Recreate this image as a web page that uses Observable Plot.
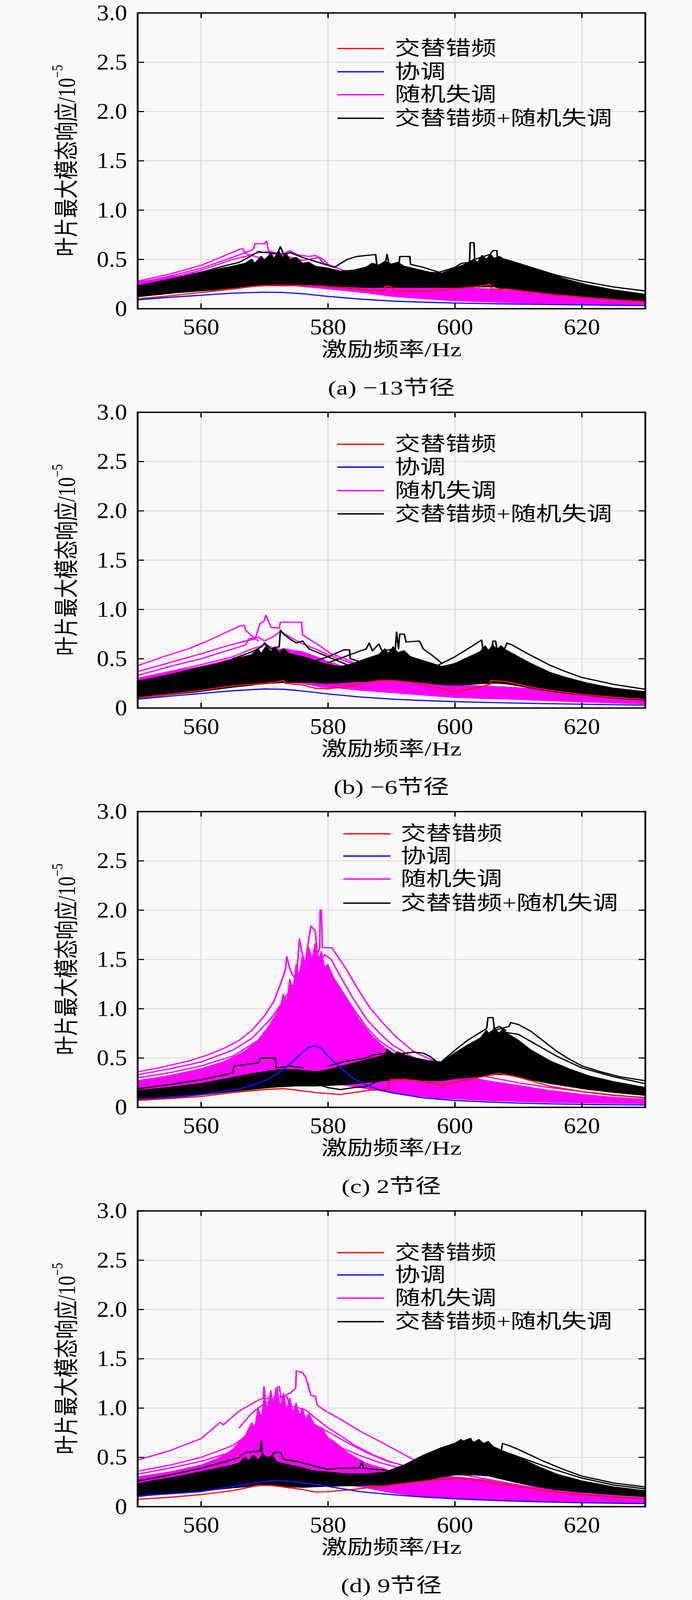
<!DOCTYPE html>
<html>
<head>
<meta charset="utf-8">
<script src="https://cdn.jsdelivr.net/npm/d3@7"></script>
<script src="https://cdn.jsdelivr.net/npm/@observablehq/plot@0.6"></script>
<style>
  html, body { margin: 0; background: #f9f9f9; overflow: hidden; }
  #root { width: 1772px; height: 5237px; overflow: hidden; transform-origin: 0 0; }
  .spacer { height: 9px; }
  .panel { position: relative; width: 1772px; height: 1307px; }
  .panel svg { overflow: visible; display: block; }
  .caption { position: absolute; left: 352px; width: 1300px; top: 1212px; height: 94px; line-height: 96px;
    text-align: center; font-size: 66px; font-family: 'Liberation Serif','Noto Sans CJK SC',serif; color: #000; }
</style>
</head>
<body>
<div id="root"><div class="spacer"></div></div>
<script>
// ---------- tick labels / text ----------
const freqTicks = [560, 580, 600, 620];
const yTicks = [0, 0.5, 1.0, 1.5, 2.0, 2.5, 3.0];
const legendLabels = ["交替错频", "协调", "随机失调", "交替错频+随机失调"];
const captions = ["(a) −13节径", "(b) −6节径", "(c) 2节径", "(d) 9节径"];
const xTitle = "激励频率/Hz";
const yTitleMain = "叶片最大模态响应/10";
const yTitleSup = "−5";

// ---------- panel (a) -13 ----------
const A_blue = [[550,0.091],[555,0.115],[560,0.137],[565,0.158],[570,0.168],[573,0.165],[576,0.152],[580,0.125],[585,0.098],[590,0.078],[595,0.066],[600,0.058],[605,0.052],[610,0.047],[615,0.043],[620,0.039],[625,0.035],[630,0.032]];
const A_red = [[550,0.1],[555,0.13],[560,0.165],[565,0.2],[568,0.225],[570,0.235],[573,0.24],[576,0.235],[579,0.23],[581,0.22],[583,0.21],[585,0.2],[586,0.185],[588.9,0.185],[589,0.23],[590,0.225],[590.3,0.18],[593,0.178],[596,0.18],[598,0.19],[600,0.205],[603,0.22],[605,0.24],[605.5,0.25],[605.7,0.2],[608,0.2],[612,0.17],[616,0.14],[620,0.118],[625,0.092],[630,0.072]];
const A_pinkBand = [[550,0.14,0.27],[555,0.17,0.32],[560,0.19,0.37],[565,0.21,0.43],[570,0.23,0.48],[575,0.23,0.46],[580,0.2,0.36],[583,0.18,0.28],[586,0.16,0.245],[590,0.125,0.235],[595,0.1,0.22],[600,0.08,0.215],[605,0.068,0.2],[610,0.058,0.175],[615,0.05,0.15],[620,0.045,0.125],[625,0.04,0.095],[630,0.036,0.068]];
const A_blackBand = [[550,0.12,0.23],[553,0.14,0.27],[556,0.16,0.31],[559,0.175,0.35],[562,0.19,0.39],[565,0.21,0.43],[567,0.22,0.46],[568,0.225,0.5],[568.5,0.227,0.46],[569.5,0.23,0.53],[570,0.235,0.49],[571,0.235,0.56],[571.5,0.235,0.51],[572.3,0.235,0.58],[572.8,0.235,0.52],[573.5,0.235,0.55],[574,0.235,0.5],[575,0.235,0.52],[576,0.235,0.46],[577,0.232,0.47],[578,0.23,0.43],[580,0.23,0.41],[582,0.225,0.38],[584,0.22,0.39],[586,0.215,0.42],[587,0.215,0.46],[588,0.215,0.44],[589,0.215,0.48],[590,0.215,0.45],[591,0.215,0.47],[592,0.215,0.43],[594,0.215,0.4],[596,0.215,0.37],[598,0.215,0.36],[600,0.215,0.41],[602,0.215,0.46],[603,0.217,0.5],[603.6,0.218,0.47],[604.3,0.22,0.54],[605,0.22,0.5],[605.6,0.22,0.55],[606.2,0.22,0.51],[607,0.21,0.53],[608,0.2,0.49],[610,0.19,0.45],[612,0.17,0.41],[615,0.15,0.35],[618,0.135,0.29],[621,0.12,0.24],[625,0.1,0.19],[630,0.075,0.145]];
const A_pinkLines = [
  [[550,0.28],[555,0.35],[560,0.44],[563,0.52],[566,0.6],[566.5,0.61],[567,0.56],[569,0.52],[571,0.49],[574,0.45],[577,0.4],[580,0.34]],
  [[550,0.26],[555,0.33],[560,0.41],[564,0.5],[567,0.57],[568.2,0.6],[568.5,0.66],[570,0.66],[570.3,0.685],[570.6,0.6],[571,0.55],[573,0.56],[574,0.59],[575,0.55],[577,0.53],[578,0.54],[579.3,0.5],[580,0.45],[582,0.4],[584,0.35]],
  [[550,0.24],[555,0.31],[560,0.39],[565,0.5],[567,0.53],[569,0.57],[571,0.58],[573,0.54],[576,0.49],[578.5,0.52],[579.3,0.46],[582,0.4],[585,0.33]]
];
const A_blackLines = [
  [[550,0.22],[555,0.29],[560,0.37],[564,0.44],[566,0.47],[568,0.54],[569,0.58],[570,0.57],[572,0.56],[572.5,0.63],[573,0.55],[574,0.57],[576,0.52],[578,0.48],[580,0.44],[581,0.42]],
  [[581,0.42],[583,0.5],[584.5,0.53],[587.5,0.55],[587.7,0.44],[589,0.45],[589.3,0.55],[589.6,0.45],[591.2,0.46],[591.3,0.53],[592.9,0.53],[593,0.45],[595,0.42],[597.5,0.37]],
  [[597.5,0.37],[600,0.42],[601,0.46],[602.3,0.47],[602.4,0.67],[603,0.67],[603.1,0.5],[604,0.52],[605.5,0.55],[606,0.59],[606.6,0.59],[606.7,0.51],[608,0.5],[610,0.46],[613,0.4],[616,0.34],[620,0.28],[625,0.22],[630,0.18]]
];

// ---------- panel (b) -6 ----------
const B_blue = [[550,0.091],[555,0.12],[560,0.148],[565,0.175],[570,0.194],[573,0.19],[575,0.179],[578,0.158],[580,0.143],[585,0.112],[590,0.091],[595,0.076],[600,0.065],[605,0.057],[610,0.05],[615,0.044],[620,0.039],[625,0.034],[630,0.029]];
const B_red = [[550,0.105],[555,0.14],[560,0.18],[565,0.225],[570,0.25],[572,0.265],[573,0.28],[573.3,0.25],[576,0.235],[578,0.2],[580,0.195],[583,0.22],[586,0.26],[588,0.28],[590,0.28],[592,0.27],[594,0.25],[596,0.22],[598,0.195],[600,0.168],[603,0.2],[605.5,0.24],[605.7,0.28],[608,0.27],[610,0.24],[613,0.2],[616,0.17],[620,0.137],[625,0.11],[630,0.086]];
const B_pinkBand = [[550,0.15,0.3],[555,0.17,0.36],[560,0.2,0.42],[565,0.22,0.5],[570,0.25,0.56],[573,0.26,0.6],[576,0.25,0.57],[579,0.21,0.5],[582,0.2,0.4],[585,0.18,0.33],[588,0.165,0.31],[591,0.15,0.29],[595,0.13,0.26],[600,0.106,0.235],[605,0.095,0.22],[610,0.086,0.205],[615,0.072,0.175],[620,0.06,0.148],[625,0.05,0.12],[630,0.04,0.096]];
const B_blackBand = [[550,0.1,0.27],[553,0.12,0.31],[556,0.14,0.35],[559,0.16,0.4],[562,0.185,0.44],[565,0.21,0.49],[568,0.23,0.54],[569,0.24,0.6],[569.5,0.242,0.55],[570.3,0.245,0.63],[571,0.25,0.57],[571.7,0.252,0.62],[572.3,0.255,0.56],[573,0.257,0.6],[574,0.26,0.55],[576,0.26,0.52],[578,0.255,0.48],[580,0.25,0.44],[582,0.255,0.42],[584,0.265,0.45],[586,0.27,0.5],[588,0.28,0.54],[589,0.28,0.6],[589.5,0.28,0.55],[590.3,0.28,0.62],[591,0.278,0.56],[592,0.275,0.58],[593,0.27,0.52],[594,0.265,0.5],[596,0.25,0.46],[598,0.235,0.42],[600,0.23,0.45],[602,0.235,0.51],[604,0.245,0.57],[604.8,0.247,0.63],[605.3,0.248,0.58],[606,0.25,0.64],[606.6,0.25,0.59],[607.3,0.248,0.63],[608,0.245,0.59],[610,0.225,0.52],[612,0.2,0.45],[615,0.17,0.36],[618,0.145,0.3],[621,0.125,0.25],[625,0.1,0.2],[630,0.078,0.165]];
const B_pinkLines = [
  [[550,0.43],[554,0.52],[558,0.6],[561,0.68],[564,0.77],[566,0.83],[566.8,0.84],[567,0.79],[568,0.73],[569,0.68]],
  [[550,0.37],[555,0.46],[560,0.55],[564,0.63],[567,0.68],[568.5,0.7],[569.3,0.86],[569.9,0.88],[570.2,0.94],[570.5,0.9],[571,0.82],[572.3,0.81],[572.5,0.87],[575.8,0.87],[576,0.74],[578,0.66],[580.5,0.55],[582.7,0.5],[585,0.43]],
  [[550,0.33],[555,0.42],[560,0.5],[565,0.6],[567,0.64],[567.5,0.7],[569,0.72],[570,0.68],[571.5,0.73],[572.5,0.78],[574,0.72],[576,0.65],[578,0.6],[580,0.54],[583,0.47],[586,0.4]],
  [[550,0.3],[555,0.37],[560,0.44],[565,0.52],[568,0.6],[570,0.64],[572,0.6],[575,0.56],[578,0.5],[581,0.45],[584,0.38]]
];
const B_blackLines = [
  [[565,0.5],[568,0.57],[569.5,0.62],[570,0.66],[571,0.6],[572.3,0.62],[572.5,0.79],[573,0.75],[574,0.7],[575,0.66],[576,0.68],[577,0.6],[580,0.52],[583,0.44]],
  [[578,0.48],[580,0.52],[582.5,0.59],[583.4,0.59],[583.5,0.5],[585,0.47]],
  [[580,0.46],[583,0.53],[586,0.6],[586.5,0.66],[587,0.58],[588,0.65],[588.5,0.58],[590.6,0.6],[590.8,0.77],[591.1,0.6],[591.3,0.75],[592,0.75],[592.3,0.67],[594.4,0.68],[595,0.6],[596.5,0.53],[598,0.45]],
  [[597.5,0.44],[600,0.52],[602,0.6],[604.2,0.69],[604.4,0.6],[605,0.6]],
  [[605,0.58],[605.8,0.6],[606,0.68],[606.4,0.68],[606.6,0.6],[607.8,0.6],[608.2,0.66],[609,0.64],[611.2,0.56],[613,0.5],[614.8,0.44],[617,0.38],[620,0.31],[625,0.24],[630,0.19]]
];

// ---------- panel (c) 2 ----------
const C_blue = [[550,0.083],[555,0.105],[560,0.13],[565,0.175],[568,0.22],[570,0.27],[572,0.34],[573,0.385],[575,0.5],[576,0.56],[577,0.61],[578,0.625],[579,0.595],[580,0.52],[581,0.46],[582,0.4],[584,0.29],[586,0.227],[588,0.18],[590,0.148],[595,0.096],[600,0.07],[605,0.055],[610,0.043],[615,0.036],[620,0.03],[625,0.027],[630,0.024]];
const C_red = [[550,0.07],[555,0.09],[560,0.11],[565,0.15],[570,0.18],[573,0.19],[575,0.175],[578,0.15],[580,0.14],[582,0.13],[584,0.15],[586.7,0.175],[589.5,0.18],[589.8,0.28],[592,0.286],[596,0.254],[598,0.227],[600,0.254],[604,0.306],[607,0.345],[610,0.306],[615,0.214],[620,0.16],[625,0.125],[630,0.096]];
const C_pinkBand = [[550,0.12,0.27],[555,0.15,0.32],[560,0.18,0.39],[564,0.21,0.47],[567,0.24,0.57],[569,0.26,0.68],[571,0.27,0.85],[572.5,0.28,1.02],[573,0.285,1.15],[573.5,0.29,1.05],[574,0.29,1.3],[574.5,0.29,1.18],[575,0.29,1.45],[575.5,0.29,1.32],[576,0.285,1.55],[576.5,0.285,1.42],[577,0.28,1.62],[577.5,0.28,1.5],[578,0.27,1.66],[578.5,0.265,1.5],[579,0.26,1.58],[579.5,0.255,1.42],[580,0.25,1.45],[581,0.24,1.3],[582,0.23,1.2],[583,0.22,1.08],[584,0.21,0.98],[585,0.2,0.88],[587,0.18,0.72],[589,0.16,0.6],[591,0.14,0.52],[594,0.115,0.43],[597,0.095,0.37],[600,0.085,0.33],[605,0.068,0.27],[610,0.058,0.22],[615,0.05,0.17],[620,0.044,0.13],[625,0.039,0.1],[630,0.035,0.08]];
const C_blackBand = [[550,0.075,0.17],[555,0.095,0.2],[560,0.125,0.24],[565,0.16,0.3],[568,0.18,0.34],[570,0.195,0.36],[572,0.205,0.38],[575,0.215,0.38],[578,0.215,0.36],[580,0.22,0.38],[583,0.23,0.43],[586,0.25,0.48],[589,0.27,0.53],[589.7,0.275,0.57],[590.3,0.278,0.53],[591,0.28,0.56],[593,0.28,0.51],[596,0.27,0.47],[598,0.27,0.46],[600,0.29,0.55],[602,0.3,0.63],[604,0.31,0.7],[605,0.32,0.78],[605.5,0.325,0.73],[606.2,0.33,0.8],[607,0.33,0.75],[607.6,0.33,0.8],[608,0.33,0.76],[610,0.31,0.68],[612,0.28,0.58],[615,0.24,0.47],[618,0.21,0.39],[621,0.18,0.32],[625,0.15,0.26],[630,0.12,0.2]];
const C_pinkLines = [
  [[550,0.36],[554,0.41],[558,0.47],[561,0.53],[564,0.61],[566,0.68],[568,0.78],[570,0.93],[571.5,1.08],[572.5,1.25],[573.3,1.4],[573.5,1.53],[573.8,1.45],[574.3,1.35],[575,1.3],[575.5,1.71],[575.8,1.6],[576.3,1.45]],
  [[550,0.33],[555,0.39],[560,0.46],[565,0.58],[568,0.7],[571,0.9],[573,1.08],[575,1.3],[576.5,1.5],[577,1.72],[577.3,1.84],[578,1.79],[578.3,1.55],[578.7,1.62],[578.75,2.0],[578.95,2.0],[579.1,1.62],[580.6,1.62],[582.7,1.42],[584.7,1.2],[586.7,1.0],[588.8,0.845],[590.8,0.71],[593.4,0.57],[596,0.49],[600,0.39],[605,0.31],[610,0.25],[615,0.2],[620,0.16],[625,0.12],[630,0.1]],
  [[550,0.3],[555,0.35],[560,0.42],[565,0.52],[570,0.72],[573,0.92],[576,1.2],[578,1.4],[579.5,1.55],[580.5,1.5],[582,1.32],[584,1.1],[586,0.9],[588,0.76],[590,0.64],[593,0.52],[596,0.44],[600,0.36]],
  [[550,0.26],[555,0.31],[560,0.37],[565,0.46],[570,0.6],[574,0.8],[577,1.1],[579,1.3],[580.5,1.35],[582,1.2],[584,1.0],[586,0.82],[588,0.68],[591,0.55],[595,0.44],[600,0.35]]
];
const C_blackLines = [
  [[550,0.19],[555,0.23],[560,0.28],[565,0.35],[565.2,0.42],[569,0.45],[569.4,0.5],[571.7,0.5],[571.8,0.4],[574,0.42],[576,0.4]],
  [[580,0.42],[583,0.47],[586,0.5],[587,0.53],[589.2,0.55],[589.3,0.59],[589.6,0.55],[591,0.54],[593.4,0.56],[595,0.55],[596,0.52],[597,0.47]],
  [[598,0.47],[600,0.58],[602,0.68],[604,0.76],[605,0.8],[605.2,0.91],[606,0.91],[606.2,0.8],[607,0.82],[608,0.78]],
  [[604,0.7],[606,0.78],[608.5,0.82],[608.8,0.86],[610,0.84],[612,0.77],[614,0.67],[616,0.57],[618,0.49],[620,0.42],[623,0.36],[626,0.31],[630,0.27]],
  [[605,0.74],[608,0.76],[610,0.74],[613,0.63],[616,0.52],[620,0.4],[625,0.31],[630,0.24]],
  [[576,0.25],[578,0.24],[580,0.2],[582,0.18],[584,0.2],[586,0.21],[587,0.24],[588,0.27]]
];

// ---------- panel (d) 9 ----------
const D_blue = [[550,0.11],[555,0.13],[560,0.153],[565,0.205],[570,0.256],[572,0.267],[575,0.25],[578,0.225],[580,0.205],[585,0.153],[590,0.122],[595,0.098],[600,0.08],[605,0.066],[610,0.055],[615,0.047],[620,0.04],[625,0.035],[630,0.031]];
const D_red = [[550,0.075],[555,0.095],[560,0.122],[565,0.163],[569,0.215],[571,0.215],[573,0.2],[576,0.174],[578,0.148],[580,0.153],[584,0.174],[588,0.205],[592,0.236],[596,0.267],[600,0.287],[602,0.28],[605,0.256],[610,0.205],[615,0.153],[620,0.122],[625,0.1],[630,0.08]];
const D_pinkBand = [[550,0.15,0.3],[555,0.17,0.35],[560,0.2,0.42],[563,0.22,0.5],[565,0.24,0.58],[567,0.26,0.72],[568,0.265,0.85],[568.5,0.27,0.8],[569,0.27,1.0],[569.5,0.27,0.9],[570,0.275,1.12],[570.5,0.275,0.98],[571,0.28,1.18],[571.5,0.28,1.02],[572,0.28,1.2],[572.5,0.28,1.0],[573,0.28,1.15],[573.5,0.28,0.98],[574,0.28,1.1],[574.5,0.28,0.95],[575,0.28,1.05],[575.5,0.28,0.92],[576,0.275,1.0],[576.5,0.275,0.88],[577,0.27,0.94],[578,0.265,0.82],[579,0.26,0.8],[580,0.25,0.7],[581,0.24,0.66],[583,0.22,0.55],[586,0.19,0.44],[590,0.14,0.36],[595,0.1,0.31],[600,0.08,0.3],[605,0.066,0.27],[610,0.056,0.22],[615,0.048,0.17],[620,0.042,0.135],[625,0.036,0.11],[630,0.032,0.09]];
const D_blackBand = [[550,0.1,0.23],[553,0.12,0.27],[556,0.14,0.3],[559,0.155,0.34],[562,0.17,0.38],[565,0.19,0.42],[566,0.195,0.44],[567,0.2,0.5],[567.5,0.202,0.46],[568.3,0.205,0.52],[569,0.21,0.47],[569.8,0.215,0.53],[570.5,0.215,0.48],[571.2,0.213,0.52],[572,0.21,0.45],[574,0.2,0.42],[576,0.195,0.39],[578,0.2,0.36],[580,0.205,0.35],[583,0.21,0.33],[586,0.215,0.33],[589,0.22,0.35],[592,0.24,0.42],[595,0.26,0.52],[598,0.3,0.6],[600,0.32,0.64],[601,0.32,0.68],[601.5,0.32,0.65],[602.3,0.32,0.69],[603,0.32,0.65],[603.8,0.316,0.68],[604.5,0.313,0.64],[605.3,0.31,0.66],[606,0.3,0.61],[608,0.27,0.55],[610,0.24,0.5],[613,0.2,0.41],[616,0.17,0.33],[620,0.145,0.26],[625,0.12,0.2],[630,0.1,0.16]];
const D_pinkLines = [
  [[550,0.473],[555,0.566],[560,0.69],[563,0.855],[563.5,0.83],[566,0.97],[569,1.08],[569.8,1.1],[569.9,1.217],[570.1,1.1],[571,1.1]],
  [[566,0.8],[568,0.95],[570,1.05],[572,1.1],[574,1.15],[574.9,1.2],[575,1.377],[576,1.36],[576.5,1.31],[577,1.2],[577.3,1.13],[578,1.12],[578.3,1.03],[579.6,0.97],[582,0.886],[585.2,0.76],[588.8,0.64],[591.8,0.535],[593.4,0.48],[596,0.42],[600,0.34],[605,0.28],[610,0.22],[615,0.17],[620,0.135],[625,0.105],[630,0.085]],
  [[550,0.36],[555,0.42],[560,0.5],[565,0.62],[568,0.76],[570,0.9],[571.5,1.05],[571.8,1.2],[572.3,1.22],[572.6,1.1],[573.5,1.12],[574,1.02],[575.5,1.0],[576.5,0.98],[578,0.9],[580,0.8],[582,0.72],[584,0.63],[587,0.53],[590,0.45],[594,0.38]],
  [[550,0.33],[555,0.39],[560,0.46],[565,0.56],[568,0.66],[570,0.74],[572,0.85],[574,0.9],[576,0.87],[578,0.83],[580,0.76],[583,0.65],[586,0.55],[589,0.47],[593,0.4],[597,0.35]],
  [[550,0.26],[555,0.31],[560,0.38],[565,0.48],[570,0.62],[573,0.7],[576,0.73],[579,0.68],[582,0.6],[585,0.52],[588,0.45],[592,0.38]]
];
const D_blackLines = [
  [[550,0.26],[555,0.32],[560,0.39],[564,0.46],[566,0.5],[567,0.55],[568,0.56],[569.3,0.56],[569.5,0.67],[569.7,0.5],[571,0.5],[571.5,0.55],[572.5,0.55],[573,0.48],[575,0.46],[578,0.41],[580,0.38],[582,0.39],[585,0.39],[585.3,0.46],[585.6,0.39],[587,0.38],[589,0.37]],
  [[590,0.36],[593,0.45],[596,0.54],[599,0.62],[601,0.66],[602.5,0.69],[602.7,0.62],[604,0.62],[606,0.6],[607.3,0.57],[607.5,0.64],[608.5,0.62],[610,0.58],[612,0.52],[614,0.46],[617,0.38],[620,0.31],[625,0.24],[630,0.2]],
  [[598,0.58],[600,0.62],[602,0.65],[604,0.64],[606,0.6],[609,0.53],[612,0.46],[615,0.39],[620,0.29],[625,0.22],[630,0.18]]
];

// ---------- rendering ----------
const RED = "#ff1010", BLUE = "#1010ff", MAG = "#ff00ff", BLK = "#000000";
const FONT = "'Liberation Serif','Times New Roman','Noto Sans CJK SC',serif";
const W = 1772, H = 1200, ML = 352, MR = 120, MT = 33, MB = 199;
const FW = W - ML - MR, FH = H - MT - MB;

const panels = [
  {blue: A_blue, red: A_red, pinkBand: A_pinkBand, blackBand: A_blackBand, pinkLines: A_pinkLines, blackLines: A_blackLines,
   legend: {rows: [150, 226, 301, 378], x1: 864, x2: 983, tx: 1011}},
  {blue: B_blue, red: B_red, pinkBand: B_pinkBand, blackBand: B_blackBand, pinkLines: B_pinkLines, blackLines: B_blackLines,
   legend: {rows: [138, 213, 290, 366], x1: 864, x2: 983, tx: 1011}},
  {blue: C_blue, red: C_red, pinkBand: C_pinkBand, blackBand: C_blackBand, pinkLines: C_pinkLines, blackLines: C_blackLines,
   legend: {rows: [106, 179, 254, 333], x1: 879, x2: 1000, tx: 1026}},
  {blue: D_blue, red: D_red, pinkBand: D_pinkBand, blackBand: D_blackBand, pinkLines: D_pinkLines, blackLines: D_blackLines,
   legend: {rows: [170, 243, 319, 396], x1: 864, x2: 983, tx: 1011}}
];

const flat = lines => lines.flatMap((l, k) => l.map(p => ({f: p[0], v: p[1], k})));

panels.forEach((p, i) => {
  const chart = Plot.plot({
    width: W, height: H, marginLeft: ML, marginRight: MR, marginTop: MT, marginBottom: MB,
    x: {domain: [550, 630], label: null},
    y: {domain: [0, 3], label: null},
    style: {fontFamily: FONT, fontSize: "64px", background: "transparent", color: "#000", overflow: "visible"},
    marks: [
      Plot.gridX(freqTicks, {stroke: "#dcdcdc", strokeOpacity: 1, strokeWidth: 3}),
      Plot.gridY(yTicks.filter(v => v > 0 && v < 3), {stroke: "#dcdcdc", strokeOpacity: 1, strokeWidth: 3}),
      Plot.areaY(p.pinkBand, {x: d => d[0], y1: d => d[1], y2: d => d[2], fill: MAG, stroke: MAG, strokeWidth: 3}),
      Plot.line(flat(p.pinkLines), {x: "f", y: "v", z: "k", stroke: MAG, strokeWidth: 4}),
      Plot.areaY(p.blackBand, {x: d => d[0], y1: d => d[1], y2: d => d[2], fill: BLK, stroke: BLK, strokeWidth: 3}),
      Plot.line(flat(p.blackLines), {x: "f", y: "v", z: "k", stroke: BLK, strokeWidth: 4}),
      Plot.line(p.red, {x: d => d[0], y: d => d[1], stroke: RED, strokeWidth: 4}),
      Plot.line(p.blue, {x: d => d[0], y: d => d[1], stroke: BLUE, strokeWidth: 4}),
      Plot.tickX(freqTicks, {x: d => d, insetTop: FH - 17, stroke: BLK, strokeWidth: 3.5}),
      Plot.tickX(freqTicks, {x: d => d, insetBottom: FH - 17, stroke: BLK, strokeWidth: 3.5}),
      Plot.tickY(yTicks, {y: d => d, insetRight: FW - 17, stroke: BLK, strokeWidth: 3.5}),
      Plot.tickY(yTicks, {y: d => d, insetLeft: FW - 17, stroke: BLK, strokeWidth: 3.5}),
      Plot.frame({stroke: BLK, strokeWidth: 4.5}),
      Plot.axisX(freqTicks, {tickSize: 0, tickPadding: 32, label: null, fontSize: 74}),
      Plot.axisY(yTicks, {tickSize: 0, tickPadding: 27, label: null, fontSize: 74,
        tickFormat: d => d === 0 ? "0" : d.toFixed(1)}),
      Plot.text([xTitle], {frameAnchor: "bottom", dy: 155, fontSize: 66})
    ]
  });

  const svg = d3.select(chart);

  // y-axis title with superscript exponent
  const yt = svg.append("text")
    .attr("transform", `translate(171,${MT + FH / 2}) rotate(-90)`)
    .attr("text-anchor", "middle").attr("dominant-baseline", "central")
    .attr("font-family", FONT).attr("font-size", 63).attr("fill", "#000");
  yt.append("tspan").text(yTitleMain);
  yt.append("tspan").attr("dy", -24).attr("font-size", 40).text(yTitleSup);

  // legend
  const lg = svg.append("g");
  const cols = [RED, BLUE, MAG, BLK];
  p.legend.rows.forEach((ry, j) => {
    lg.append("line").attr("x1", p.legend.x1).attr("x2", p.legend.x2).attr("y1", ry).attr("y2", ry)
      .attr("stroke", cols[j]).attr("stroke-width", 4.5);
    lg.append("text").attr("x", p.legend.tx).attr("y", ry).attr("dominant-baseline", "central")
      .attr("text-anchor", "start")
      .attr("font-size", 65).attr("font-family", FONT).attr("fill", "#000").text(legendLabels[j]);
  });

  const div = document.createElement("div");
  div.className = "panel";
  div.appendChild(chart);
  const cap = document.createElement("div");
  cap.className = "caption";
  cap.textContent = captions[i];
  div.appendChild(cap);
  document.getElementById("root").appendChild(div);

  // tall, narrow serif digits as in the reference
  chart.querySelectorAll("g[aria-label$='tick label'] text").forEach(t => {
    const w = t.getComputedTextLength();
    if (w > 0) {
      t.setAttribute("textLength", (w * 0.84).toFixed(1));
      t.setAttribute("lengthAdjust", "spacingAndGlyphs");
    }
  });
});

// fit the full 5237-px layout into the visible viewport if the viewport is shorter
const vh = window.innerHeight;
if (vh > 0 && vh < 5237) {
  const s = vh / 5237;
  document.getElementById("root").style.transform = `scale(1, ${s})`;
  document.body.style.height = vh + "px";
}
</script>
</body>
</html>
